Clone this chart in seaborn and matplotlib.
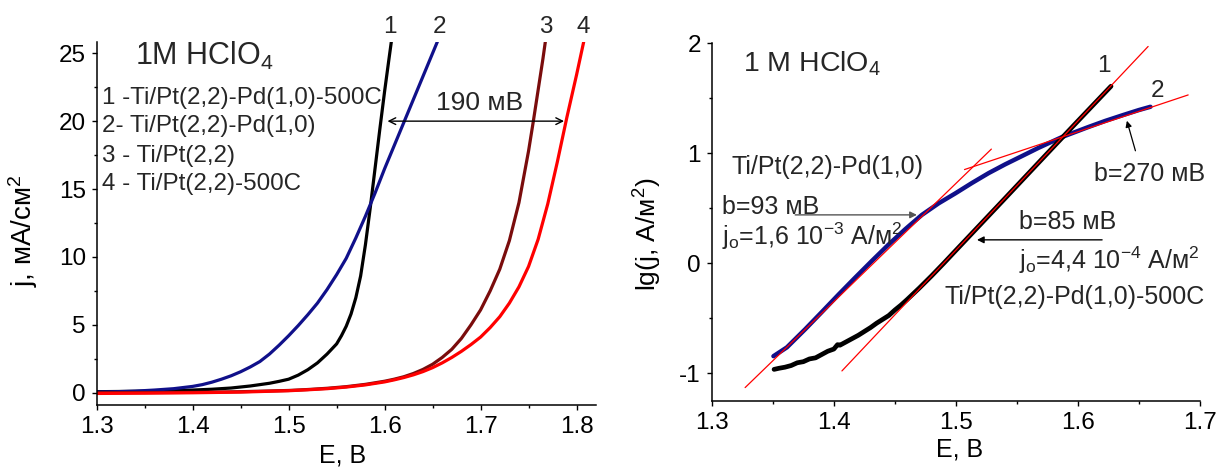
import matplotlib
matplotlib.use("Agg")
import matplotlib.pyplot as plt
import seaborn as sns
from matplotlib.ticker import MultipleLocator

# ---------------- left panel: polarization curves j(E), mA/cm2 ----------------
E1 = [1.30, 1.33, 1.36, 1.38, 1.40, 1.42, 1.44, 1.46, 1.48, 1.49, 1.50, 1.51,
      1.52, 1.53, 1.54, 1.55, 1.555, 1.56, 1.565, 1.57, 1.575, 1.58, 1.585,
      1.59, 1.595, 1.60, 1.604, 1.607]
j1 = [0.08, 0.10, 0.13, 0.16, 0.20, 0.26, 0.35, 0.50, 0.70, 0.84, 1.0, 1.3,
      1.7, 2.2, 2.85, 3.6, 4.2, 4.9, 5.8, 7.0, 8.6, 10.9, 13.6,
      16.5, 19.4, 22.2, 24.3, 25.85]

E2 = [1.30, 1.32, 1.34, 1.36, 1.38, 1.40, 1.41, 1.42, 1.43, 1.44, 1.45, 1.46,
      1.47, 1.48, 1.49, 1.50, 1.51, 1.52, 1.53, 1.54, 1.55, 1.56, 1.57, 1.58,
      1.59, 1.60, 1.61, 1.62, 1.63, 1.64, 1.65, 1.655]
j2 = [0.05, 0.08, 0.12, 0.20, 0.30, 0.47, 0.60, 0.78, 1.0, 1.25, 1.55, 1.9,
      2.3, 2.85, 3.5, 4.2, 4.95, 5.75, 6.6, 7.6, 8.7, 9.9, 11.4, 13.0,
      14.7, 16.5, 18.2, 19.9, 21.6, 23.3, 25.0, 25.85]

E3 = [1.30, 1.35, 1.40, 1.45, 1.50, 1.52, 1.54, 1.56, 1.58, 1.60, 1.61, 1.62,
      1.63, 1.64, 1.65, 1.66, 1.67, 1.68, 1.69, 1.70, 1.71, 1.72, 1.73, 1.74,
      1.75, 1.755, 1.76, 1.765, 1.7675]
j3 = [0.0, 0.01, 0.03, 0.08, 0.17, 0.24, 0.33, 0.45, 0.62, 0.85, 1.0, 1.18,
      1.42, 1.72, 2.1, 2.6, 3.2, 4.0, 5.0, 6.1, 7.5, 9.1, 11.2, 14.0,
      17.8, 20.0, 22.3, 24.6, 25.85]

E4 = [1.30, 1.35, 1.40, 1.45, 1.50, 1.52, 1.54, 1.56, 1.58, 1.60, 1.61, 1.62,
      1.63, 1.64, 1.65, 1.66, 1.67, 1.68, 1.69, 1.70, 1.71, 1.72, 1.73, 1.74,
      1.75, 1.76, 1.77, 1.78, 1.79, 1.80, 1.8075]
j4 = [-0.05, -0.03, 0.0, 0.05, 0.15, 0.22, 0.30, 0.42, 0.58, 0.80, 0.95, 1.12,
      1.32, 1.56, 1.85, 2.2, 2.6, 3.05, 3.55, 4.1, 4.8, 5.6, 6.6, 7.8,
      9.3, 11.3, 13.9, 17.0, 20.3, 23.4, 25.85]

curve_colors = ["#000000", "#10108a", "#7a0c0c", "#ff0000"]
curve_numbers = ["1", "2", "3", "4"]
number_E = [1.606, 1.657, 1.7675, 1.807]

legend_lines = ["1 -Ti/Pt(2,2)-Pd(1,0)-500C", "2- Ti/Pt(2,2)-Pd(1,0)",
                "3 - Ti/Pt(2,2)", "4 - Ti/Pt(2,2)-500C"]
legend_j = [21.24, 19.22, 17.01, 14.93]

shift_E = [1.603, 1.787]          # 190 mV shift at j = 20 mA/cm2
shift_label = "190 мВ"

# ---------------- right panel: Tafel plots lg j(E) ----------------
Ek = [1.351, 1.355, 1.360, 1.365, 1.370, 1.375, 1.380, 1.385, 1.390, 1.395,
      1.400, 1.403, 1.405, 1.410, 1.415, 1.420, 1.425, 1.430, 1.435, 1.440,
      1.445, 1.450, 1.455, 1.460, 1.470, 1.480, 1.490, 1.500, 1.520, 1.540,
      1.560, 1.580, 1.600, 1.615, 1.627]
lgk = [-0.965, -0.955, -0.945, -0.93, -0.905, -0.895, -0.87, -0.86, -0.83, -0.80,
       -0.78, -0.74, -0.745, -0.715, -0.685, -0.655, -0.62, -0.585, -0.545, -0.51,
       -0.475, -0.425, -0.38, -0.33, -0.225, -0.115, 0.0, 0.118, 0.353, 0.588,
       0.824, 1.06, 1.295, 1.47, 1.61]

Eb = [1.3505, 1.3615, 1.3765, 1.390, 1.4038, 1.4175, 1.431, 1.4448, 1.4585,
      1.4721, 1.4858, 1.4994, 1.5131, 1.5268, 1.5404, 1.5541, 1.5677, 1.5814,
      1.5869, 1.6087, 1.6224, 1.6361, 1.6497, 1.6593]
lgb = [-0.845, -0.765, -0.60, -0.445, -0.285, -0.13, 0.02, 0.17, 0.31,
       0.44, 0.545, 0.635, 0.73, 0.82, 0.90, 0.975, 1.05, 1.12,
       1.148, 1.24, 1.295, 1.345, 1.393, 1.423]

# Tafel fit lines: slope b (mV/decade), anchor point, E range
fit_b_mV = [85, 93, 270]
fit_anchor_E = [1.5874, 1.425, 1.5874]
fit_anchor_lg = [1.148, -0.08, 1.15]
fit_E_from = [1.4066, 1.3273, 1.507]
fit_E_to = [1.6574, 1.5290, 1.6902]

# ---------------- style ----------------
sns.set_theme(style="ticks")
plt.rcParams["font.family"] = ["Liberation Sans", "DejaVu Sans"]
plt.rcParams["mathtext.fontset"] = "custom"
plt.rcParams["mathtext.rm"] = "Liberation Sans"
plt.rcParams["mathtext.it"] = "Liberation Sans:italic"
plt.rcParams["axes.unicode_minus"] = False

TICK_FS = 17.5

fig = plt.figure(figsize=(12.23, 4.70), dpi=100)
fig.patch.set_facecolor("white")
axL = fig.add_axes([0.0791, 0.1383, 0.408, 0.773])
axR = fig.add_axes([0.582, 0.1474, 0.3993, 0.7604])


def style_axes(ax):
    ax.set_facecolor("white")
    sns.despine(ax=ax)
    for s in ("left", "bottom"):
        ax.spines[s].set_color("black")
        ax.spines[s].set_linewidth(1.1)
    ax.tick_params(which="major", direction="out", length=3.8, width=1.0,
                   color="black", labelsize=TICK_FS, labelcolor="black", pad=4)
    ax.tick_params(which="minor", direction="out", length=2.4, width=1.0,
                   color="black")
    ax.grid(False)


# ---------------- left panel ----------------
for E, j, c in zip([E1, E2, E3, E4], [j1, j2, j3, j4], curve_colors):
    sns.lineplot(x=E, y=j, ax=axL, color=c, linewidth=2.3, sort=False,
                 estimator=None)

axL.set_xlim(1.3, 1.82)
axL.set_ylim(-0.9, 25.85)
axL.set_xticks([1.3, 1.4, 1.5, 1.6, 1.7, 1.8])
axL.set_xticklabels(["1.3", "1.4", "1.5", "1.6", "1.7", "1.8"])
axL.xaxis.set_minor_locator(MultipleLocator(0.05))
axL.yaxis.set_major_locator(MultipleLocator(5))
axL.yaxis.set_minor_locator(MultipleLocator(2.5))
style_axes(axL)

axL.set_xlabel("E, B", fontsize=18, color="black")
axL.set_ylabel("j, мА/см$^2$", fontsize=20, color="black")
axL.xaxis.set_label_coords(0.493, -0.105)
axL.yaxis.set_label_coords(-0.114, 0.48)

axL.text(1.340, 24.13, "1M HClO$_4$", fontsize=22, ha="left", va="baseline")
for txt, jj in zip(legend_lines, legend_j):
    axL.text(1.3052, jj, txt, fontsize=17.4, ha="left", va="baseline")
for num, e in zip(curve_numbers, number_E):
    axL.text(e, 26.9, num, fontsize=17.5, ha="center", va="center", clip_on=False)

axL.annotate("", xy=(shift_E[1], 20.0), xytext=(shift_E[0], 20.0),
             arrowprops=dict(arrowstyle="<->", color="black", lw=1.0,
                             mutation_scale=12, shrinkA=0, shrinkB=0))
axL.text(1.6535, 20.8, shift_label, fontsize=19, ha="left", va="baseline")

# ---------------- right panel ----------------
sns.lineplot(x=Eb, y=lgb, ax=axR, color="#10108a", linewidth=3.2, sort=False,
             estimator=None)
sns.lineplot(x=Ek, y=lgk, ax=axR, color="#000000", linewidth=3.4, sort=False,
             estimator=None)

for b, ea, la, e0, e1 in zip(fit_b_mV, fit_anchor_E, fit_anchor_lg,
                             fit_E_from, fit_E_to):
    slope = 1000.0 / b
    xs = [e0, e1]
    ys = [la + (e0 - ea) * slope, la + (e1 - ea) * slope]
    sns.lineplot(x=xs, y=ys, ax=axR, color="#ff0000", linewidth=0.9,
                 sort=False, estimator=None)

axR.set_xlim(1.3, 1.7)
axR.set_ylim(-1.25, 2.0)
axR.set_xticks([1.3, 1.4, 1.5, 1.6, 1.7])
axR.set_xticklabels(["1.3", "1.4", "1.5", "1.6", "1.7"])
axR.xaxis.set_minor_locator(MultipleLocator(0.05))
axR.set_yticks([-1, 0, 1, 2])
axR.set_yticklabels(["-1", "0", "1", "2"])
axR.yaxis.set_minor_locator(MultipleLocator(0.5))
style_axes(axR)

axR.set_xlabel("E, B", fontsize=18, color="black")
axR.set_ylabel("lg(j, A/м$^2$)", fontsize=19, color="black")
axR.xaxis.set_label_coords(0.508, -0.104)
axR.yaxis.set_label_coords(-0.098, 0.466)

ANN_FS = 18
axR.text(1.3259, 1.745, "1 M HClO$_4$", fontsize=20.5, ha="left", va="baseline")
axR.text(1.621, 1.796, "1", fontsize=17.5, ha="center", va="center")
axR.text(1.6648, 1.569, "2", fontsize=17.5, ha="center", va="center")

axR.text(1.3164, 0.811, "Ti/Pt(2,2)-Pd(1,0)", fontsize=ANN_FS, ha="left",
         va="baseline")
axR.text(1.3082, 0.452, "b=93 мВ", fontsize=ANN_FS, ha="left", va="baseline")
axR.text(1.3082, 0.17, r"j$_\mathrm{o}$=1,6 10$^{\mathrm{-3}}$ A/м$^2$",
         fontsize=ANN_FS, ha="left", va="baseline")
axR.annotate("", xy=(1.468, 0.44), xytext=(1.3683, 0.44),
             arrowprops=dict(arrowstyle="-|>", color="#555555", lw=1.0,
                             mutation_scale=10, shrinkA=0, shrinkB=0))

axR.text(1.6128, 0.75, "b=270 мВ", fontsize=ANN_FS, ha="left", va="baseline")
axR.annotate("", xy=(1.640, 1.296), xytext=(1.647, 1.023),
             arrowprops=dict(arrowstyle="-|>", color="black", lw=0.9,
                             mutation_scale=9, shrinkA=0, shrinkB=0))

axR.text(1.5513, 0.31, "b=85 мВ", fontsize=ANN_FS, ha="left", va="baseline")
axR.annotate("", xy=(1.5172, 0.213), xytext=(1.6197, 0.213),
             arrowprops=dict(arrowstyle="-|>", color="black", lw=1.0,
                             mutation_scale=10, shrinkA=0, shrinkB=0))
axR.text(1.5513, -0.054, r"j$_\mathrm{o}$=4,4 10$^{\mathrm{-4}}$ A/м$^2$",
         fontsize=ANN_FS, ha="left", va="baseline", clip_on=False)
axR.text(1.4904, -0.372, "Ti/Pt(2,2)-Pd(1,0)-500C", fontsize=ANN_FS,
         ha="left", va="baseline", clip_on=False)

fig.savefig("out.png", dpi=100, facecolor="white")
